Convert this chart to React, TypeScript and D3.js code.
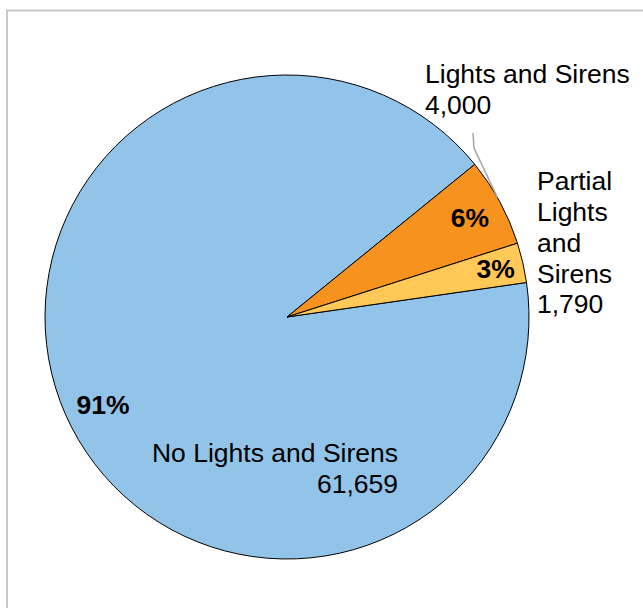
import React from "react";
import * as d3 from "d3";

const categories = ["No Lights and Sirens", "Lights and Sirens", "Partial Lights and Sirens"];
const values = [61659, 4000, 1790];
const percentLabels = ["91%", "6%", "3%"];
const colors = ["#92C4E9", "#F7921E", "#FFC857"];

const W = 643;
const H = 608;
const cx = 287;
const cy = 317;
const R = 242;
const FONT = "Liberation Sans, Arial, sans-serif";
const FS = 26.5;

export default function App() {
  const pie = d3
    .pie<number>()
    .sort(null)
    .startAngle((81.8 * Math.PI) / 180)
    .endAngle((81.8 * Math.PI) / 180 + 2 * Math.PI);
  const arcs = pie(values);
  const arc = d3.arc<d3.PieArcDatum<number>>().innerRadius(0).outerRadius(R);
  const pctR = [0.83 * R, 0.86 * R, 0.885 * R];
  const pctDy = [7, 0, 0];
  const fmt = d3.format(",");

  const labelPos = (a: d3.PieArcDatum<number>, r: number) => {
    const m = (a.startAngle + a.endAngle) / 2;
    return [cx + r * Math.sin(m), cy - r * Math.cos(m)];
  };

  // leader line for "Lights and Sirens"
  const orange = arcs[1];
  const lm = (orange.startAngle + orange.endAngle) / 2 - 0.02;
  const lx = cx + R * Math.sin(lm);
  const ly = cy - R * Math.cos(lm);

  return (
    <svg width={W} height={H} style={{ position: "absolute", left: 0, top: 0 }} fontFamily={FONT}>
      <rect x={0} y={0} width={W} height={H} fill="#fff" />
      <rect x={7} y={10.5} width={720} height={720} fill="none" stroke="#c8c8c8" strokeWidth={2} />
      <g transform={`translate(${cx},${cy})`}>
        {arcs.map((a, i) => (
          <path key={i} d={arc(a) || ""} fill={colors[i]} stroke="#000" strokeWidth={1} />
        ))}
      </g>
      {arcs.map((a, i) => {
        const [x, y] = labelPos(a, pctR[i]);
        return (
          <text key={i} x={x} y={y + pctDy[i]} dy="0.36em" textAnchor="middle" fontSize={FS} fontWeight="bold" fill="#000">
            {percentLabels[i]}
          </text>
        );
      })}
      <polyline points={`${473},${133} ${474},${148} ${lx},${ly}`} fill="none" stroke="#a6a6a6" strokeWidth={1.5} />
      <text fontSize={FS} fill="#000">
        <tspan x={425} y={83}>{categories[1]}</tspan>
        <tspan x={425} y={114}>{fmt(values[1])}</tspan>
      </text>
      <text fontSize={FS} fill="#000">
        <tspan x={537} y={190}>Partial</tspan>
        <tspan x={537} y={221}>Lights</tspan>
        <tspan x={537} y={252}>and</tspan>
        <tspan x={537} y={283}>Sirens</tspan>
        <tspan x={537} y={313}>{fmt(values[2])}</tspan>
      </text>
      <text fontSize={FS} fill="#000" textAnchor="end">
        <tspan x={398} y={462}>{categories[0]}</tspan>
        <tspan x={398} y={493}>{fmt(values[0])}</tspan>
      </text>
    </svg>
  );
}
